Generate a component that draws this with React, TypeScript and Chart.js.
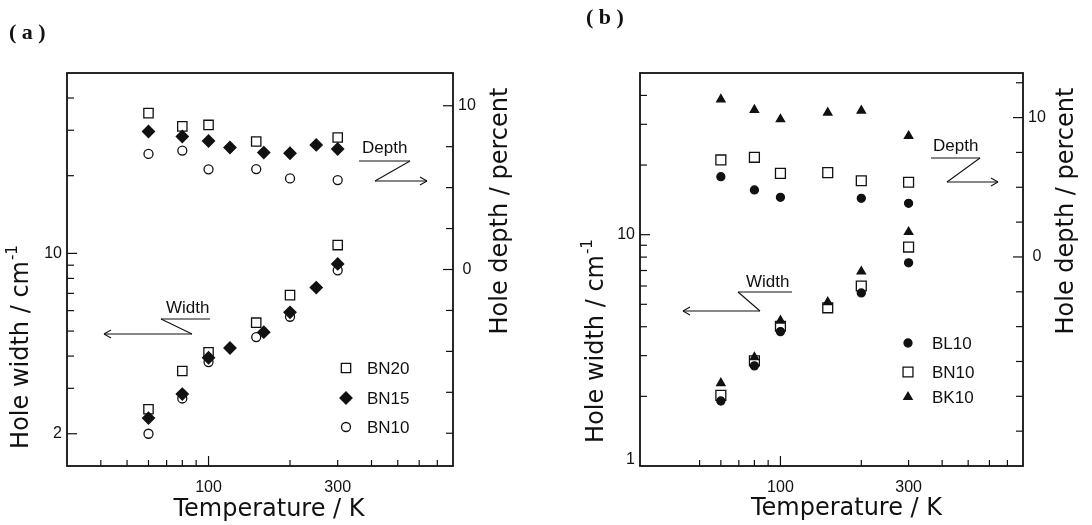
import React, { useEffect, useRef } from 'react';
import { Chart, registerables } from 'chart.js';

Chart.register(...registerables);

// ---------------- Data: panel (a) ----------------
const A_BN20_WIDTH_T = [60, 80, 100, 150, 200, 300];
const A_BN20_WIDTH = [2.49, 3.5, 4.14, 5.39, 6.89, 10.77];
const A_BN20_DEPTH_T = [60, 80, 100, 150, 300];
const A_BN20_DEPTH = [9.55, 8.74, 8.83, 7.82, 8.06];

const A_BN15_T = [60, 80, 100, 120, 160, 200, 250, 300];
const A_BN15_WIDTH = [2.3, 2.85, 3.94, 4.3, 4.95, 5.91, 7.37, 9.1];
const A_BN15_DEPTH = [8.43, 8.12, 7.85, 7.45, 7.14, 7.1, 7.61, 7.36];

const A_BN10_T = [60, 80, 100, 150, 200, 300];
const A_BN10_WIDTH = [2.0, 2.74, 3.79, 4.74, 5.68, 8.6];
const A_BN10_DEPTH = [7.06, 7.26, 6.12, 6.13, 5.56, 5.46];

// ---------------- Data: panel (b) ----------------
const B_BL10_T = [60, 80, 100, 200, 300];
const B_BL10_WIDTH = [1.91, 2.71, 3.81, 5.6, 7.56];
const B_BL10_DEPTH = [5.76, 4.81, 4.28, 4.21, 3.85];

const B_BN10_T = [60, 80, 100, 150, 200, 300];
const B_BN10_WIDTH = [2.02, 2.85, 4.02, 4.83, 6.0, 8.84];
const B_BN10_DEPTH = [6.96, 7.15, 6.0, 6.05, 5.47, 5.36];

const B_BK10_T = [60, 80, 100, 150, 200, 300];
const B_BK10_WIDTH = [2.28, 2.95, 4.25, 5.11, 6.93, 10.27];
const B_BK10_DEPTH = [11.31, 10.55, 9.88, 10.35, 10.5, 8.68];

// ---------------- Axes / ticks ----------------
const X_MIN = 30;
const X_MAX = 800;
const A_X_TICKS = [40, 50, 60, 70, 80, 90, 100, 200, 300, 400, 500, 600, 700];
const B_X_TICKS = [50, 60, 70, 80, 90, 100, 200, 300, 400, 500, 600, 700];
const X_LABELS = [100, 300];

const A_WIDTH_RANGE = [1.5, 50];
const A_WIDTH_TICKS = [2, 3, 4, 5, 6, 7, 8, 9, 10, 20, 30, 40];
const A_WIDTH_LABELS = [2, 10];
const A_DEPTH_RANGE = [-12, 12];
const A_DEPTH_TICKS = [-10, -7.5, -5, -2.5, 0, 2.5, 5, 7.5, 10];

const B_WIDTH_RANGE = [1, 50];
const B_WIDTH_TICKS = [2, 3, 4, 5, 6, 7, 8, 9, 10, 20, 30, 40];
const B_WIDTH_LABELS = [1, 10];
const B_DEPTH_RANGE = [-15, 13.2];
const B_DEPTH_TICKS = [-12.5, -10, -7.5, -5, -2.5, 0, 2.5, 5, 7.5, 10, 12.5];
const DEPTH_LABELS = [0, 10];

const X_TITLE = 'Temperature / K';
const YL_TITLE = 'Hole width / cm';
const YL_TITLE_SUP = '-1';
const YR_TITLE = 'Hole depth / percent';

const INK = '#111111';

type Series = {
  label: string;
  style: string;
  r: number;
  filled: boolean;
  wT: number[];
  w: number[];
  dT: number[];
  d: number[];
};

const A_SERIES: Series[] = [
  { label: 'BN20', style: 'rect', r: 6.6, filled: false, wT: A_BN20_WIDTH_T, w: A_BN20_WIDTH, dT: A_BN20_DEPTH_T, d: A_BN20_DEPTH },
  { label: 'BN15', style: 'rectRot', r: 6, filled: true, wT: A_BN15_T, w: A_BN15_WIDTH, dT: A_BN15_T, d: A_BN15_DEPTH },
  { label: 'BN10', style: 'circle', r: 4.5, filled: false, wT: A_BN10_T, w: A_BN10_WIDTH, dT: A_BN10_T, d: A_BN10_DEPTH },
];

const B_SERIES: Series[] = [
  { label: 'BL10', style: 'circle', r: 4, filled: true, wT: B_BL10_T, w: B_BL10_WIDTH, dT: B_BL10_T, d: B_BL10_DEPTH },
  { label: 'BN10', style: 'rect', r: 7, filled: false, wT: B_BN10_T, w: B_BN10_WIDTH, dT: B_BN10_T, d: B_BN10_DEPTH },
  { label: 'BK10', style: 'triangle', r: 4.8, filled: true, wT: B_BK10_T, w: B_BK10_WIDTH, dT: B_BK10_T, d: B_BK10_DEPTH },
];

const pts = (xs: number[], ys: number[]) => xs.map((x, i) => ({ x, y: ys[i] }));

type Ann = { tx: number; ty: number; u1: number; u2: number; uy: number; dx: number; ay: number; ax: number };

type Layout = {
  tag: string;
  tagX: number;
  tagY: number;
  pad: { left: number; right: number; top: number; bottom: number };
  xTicks: number[];
  wRange: number[];
  wTicks: number[];
  wLabels: number[];
  dRange: number[];
  dTicks: number[];
  xTitleDx: number;
  xTitleY: number;
  ylTitleX: number;
  ylTitleY: number;
  yrTitleX: number;
  yrTitleY: number;
  legX: number;
  legTextX: number;
  legY: number[];
  width: Ann;
  depth: Ann;
};

const A_LAYOUT: Layout = {
  tag: '( a )', tagX: 9, tagY: 33,
  pad: { left: 67, right: 93, top: 73, bottom: 59 },
  xTicks: A_X_TICKS, wRange: A_WIDTH_RANGE, wTicks: A_WIDTH_TICKS, wLabels: A_WIDTH_LABELS,
  dRange: A_DEPTH_RANGE, dTicks: A_DEPTH_TICKS,
  xTitleDx: 9, xTitleY: 516,
  ylTitleX: 22, ylTitleY: 347,
  yrTitleX: 501, yrTitleY: 211,
  legX: 346, legTextX: 367, legY: [368, 398, 427],
  width: { tx: 166, ty: 313, u1: 161, u2: 210, uy: 319, dx: 192, ay: 334, ax: 104 },
  depth: { tx: 362, ty: 153, u1: 359, u2: 410, uy: 161, dx: 375, ay: 181, ax: 427 },
};

const B_LAYOUT: Layout = {
  tag: '( b )', tagX: 40, tagY: 18,
  pad: { left: 94, right: 69, top: 73, bottom: 59 },
  xTicks: B_X_TICKS, wRange: B_WIDTH_RANGE, wTicks: B_WIDTH_TICKS, wLabels: B_WIDTH_LABELS,
  dRange: B_DEPTH_RANGE, dTicks: B_DEPTH_TICKS,
  xTitleDx: 15, xTitleY: 515,
  ylTitleX: 51, ylTitleY: 341,
  yrTitleX: 521, yrTitleY: 211,
  legX: 362, legTextX: 386, legY: [343, 372, 397],
  width: { tx: 200, ty: 287, u1: 192, u2: 246, uy: 292, dx: 214, ay: 311, ax: 137 },
  depth: { tx: 387, ty: 151, u1: 385, u2: 434, uy: 158, dx: 401, ay: 182, ax: 452 },
};

function drawMarker(ctx: CanvasRenderingContext2D, style: string, x: number, y: number, r: number, filled: boolean) {
  ctx.beginPath();
  if (style === 'rect') {
    const s = r * Math.SQRT1_2;
    ctx.rect(x - s, y - s, 2 * s, 2 * s);
  } else if (style === 'rectRot') {
    ctx.moveTo(x - r, y);
    ctx.lineTo(x, y - r);
    ctx.lineTo(x + r, y);
    ctx.lineTo(x, y + r);
    ctx.closePath();
  } else if (style === 'triangle') {
    let a = 0;
    ctx.moveTo(x + Math.sin(a) * r, y - Math.cos(a) * r);
    a += (2 * Math.PI) / 3;
    ctx.lineTo(x + Math.sin(a) * r, y - Math.cos(a) * r);
    a += (2 * Math.PI) / 3;
    ctx.lineTo(x + Math.sin(a) * r, y - Math.cos(a) * r);
    ctx.closePath();
  } else {
    ctx.arc(x, y, r, 0, Math.PI * 2);
  }
  if (filled) ctx.fill();
  ctx.stroke();
}

const TITLE_FONT = '24px "DejaVu Sans", sans-serif';
const SUP_FONT = '15px "DejaVu Sans", sans-serif';

function makeDecor(L: Layout, series: Series[]) {
  return {
    id: 'decor',
    afterDraw(chart: any) {
      const ctx: CanvasRenderingContext2D = chart.ctx;
      const ca = chart.chartArea;
      const sx = chart.scales.x;
      const sl = chart.scales.yL;
      const sr = chart.scales.yR;
      ctx.save();
      ctx.strokeStyle = INK;
      ctx.fillStyle = INK;
      const line = (x1: number, y1: number, x2: number, y2: number) => {
        ctx.beginPath();
        ctx.moveTo(x1, y1);
        ctx.lineTo(x2, y2);
        ctx.stroke();
      };

      // frame
      ctx.lineWidth = 1.8;
      ctx.strokeRect(ca.left, ca.top, ca.right - ca.left, ca.bottom - ca.top);

      // ticks (inward)
      ctx.lineWidth = 1.2;
      L.xTicks.forEach((v) => {
        const x = sx.getPixelForValue(v);
        const len = v === 100 ? 10 : 6;
        line(x, ca.bottom, x, ca.bottom - len);
      });
      L.wTicks.forEach((v) => {
        const y = sl.getPixelForValue(v);
        const len = L.wLabels.includes(v) ? 10 : 7;
        line(ca.left, y, ca.left + len, y);
      });
      L.dTicks.forEach((v) => {
        const y = sr.getPixelForValue(v);
        const len = DEPTH_LABELS.includes(v) ? 10 : 7;
        line(ca.right, y, ca.right - len, y);
      });

      // tick labels
      ctx.font = '16px "Liberation Sans", Arial, sans-serif';
      ctx.textBaseline = 'top';
      ctx.textAlign = 'center';
      X_LABELS.forEach((v) => ctx.fillText(String(v), sx.getPixelForValue(v), ca.bottom + 14));
      ctx.textBaseline = 'middle';
      ctx.textAlign = 'right';
      L.wLabels.forEach((v) => ctx.fillText(String(v), ca.left - 5, Math.min(sl.getPixelForValue(v), ca.bottom - 6)));
      ctx.textAlign = 'center';
      DEPTH_LABELS.forEach((v) => ctx.fillText(String(v), ca.right + 14, sr.getPixelForValue(v)));

      // axis titles
      ctx.font = TITLE_FONT;
      ctx.textAlign = 'center';
      ctx.textBaseline = 'alphabetic';
      ctx.fillText(X_TITLE, (ca.left + ca.right) / 2 + L.xTitleDx, L.xTitleY);

      // left title with superscript
      ctx.save();
      ctx.translate(L.ylTitleX, L.ylTitleY);
      ctx.rotate(-Math.PI / 2);
      ctx.textAlign = 'left';
      ctx.textBaseline = 'middle';
      ctx.font = TITLE_FONT;
      const w1 = ctx.measureText(YL_TITLE).width;
      ctx.font = SUP_FONT;
      const w2 = ctx.measureText(YL_TITLE_SUP).width;
      const x0 = -(w1 + w2 + 1) / 2;
      ctx.font = TITLE_FONT;
      ctx.fillText(YL_TITLE, x0, 0);
      ctx.font = SUP_FONT;
      ctx.fillText(YL_TITLE_SUP, x0 + w1 + 1, -9);
      ctx.restore();

      ctx.save();
      ctx.translate(L.yrTitleX, L.yrTitleY);
      ctx.rotate(-Math.PI / 2);
      ctx.font = TITLE_FONT;
      ctx.textAlign = 'center';
      ctx.textBaseline = 'middle';
      ctx.fillText(YR_TITLE, 0, 0);
      ctx.restore();

      // legend
      ctx.font = '17px "Liberation Sans", Arial, sans-serif';
      ctx.textAlign = 'left';
      ctx.textBaseline = 'middle';
      series.forEach((s, i) => {
        ctx.lineWidth = 1.3;
        drawMarker(ctx, s.style, L.legX, L.legY[i], s.r, s.filled);
        ctx.fillText(s.label, L.legTextX, L.legY[i] + 1);
      });

      // annotations
      const ann = (a: Ann, text: string, leftward: boolean) => {
        ctx.font = '17px "Liberation Sans", Arial, sans-serif';
        ctx.textAlign = 'left';
        ctx.textBaseline = 'alphabetic';
        ctx.fillText(text, a.tx, a.ty);
        ctx.lineWidth = 1.1;
        line(a.u1, a.uy, a.u2, a.uy);
        const from = leftward ? a.u1 : a.u2;
        line(from, a.uy, a.dx, a.ay);
        line(a.dx, a.ay, a.ax, a.ay);
        const dir = leftward ? 1 : -1;
        line(a.ax, a.ay, a.ax + dir * 7, a.ay - 4);
        line(a.ax, a.ay, a.ax + dir * 7, a.ay + 4);
      };
      ann(L.width, 'Width', true);
      ann(L.depth, 'Depth', false);

      // panel tag
      ctx.font = 'bold 22px "Liberation Serif", "Times New Roman", serif';
      ctx.textAlign = 'left';
      ctx.textBaseline = 'middle';
      ctx.fillText(L.tag, L.tagX, L.tagY);
      ctx.restore();
    },
  };
}

function Panel({ L, series, left }: { L: Layout; series: Series[]; left: number }) {
  const ref = useRef<HTMLCanvasElement>(null);
  useEffect(() => {
    if (!ref.current) return;
    const datasets: any[] = [];
    series.forEach((s) => {
      const common = {
        pointStyle: s.style,
        pointRadius: s.r,
        pointHoverRadius: s.r,
        pointBorderWidth: 1.3,
        pointBorderColor: INK,
        pointBackgroundColor: s.filled ? INK : 'rgba(255,255,255,0)',
        borderColor: INK,
        backgroundColor: s.filled ? INK : 'rgba(255,255,255,0)',
        showLine: false,
      };
      datasets.push({ ...common, label: s.label + ' width', data: pts(s.wT, s.w), yAxisID: 'yL' });
      datasets.push({ ...common, label: s.label + ' depth', data: pts(s.dT, s.d), yAxisID: 'yR' });
    });
    const chart = new Chart(ref.current, {
      type: 'scatter',
      data: { datasets },
      options: {
        animation: false,
        responsive: false,
        events: [],
        layout: { padding: L.pad },
        plugins: { legend: { display: false }, tooltip: { enabled: false } },
        scales: {
          x: { type: 'logarithmic', min: X_MIN, max: X_MAX, display: false },
          y: { display: false },
          yL: { type: 'logarithmic', position: 'left', min: L.wRange[0], max: L.wRange[1], display: false },
          yR: { type: 'linear', position: 'right', min: L.dRange[0], max: L.dRange[1], display: false },
        },
      } as any,
      plugins: [makeDecor(L, series)],
    });
    return () => chart.destroy();
  }, []);
  return (
    <canvas
      ref={ref}
      width={546}
      height={525}
      style={{ position: 'absolute', left, top: 0, width: 546, height: 525 }}
    />
  );
}

export default function App() {
  return (
    <div style={{ position: 'fixed', left: 0, top: 0, width: 1092, height: 525, background: '#ffffff' }}>
      <Panel L={A_LAYOUT} series={A_SERIES} left={0} />
      <Panel L={B_LAYOUT} series={B_SERIES} left={546} />
    </div>
  );
}
